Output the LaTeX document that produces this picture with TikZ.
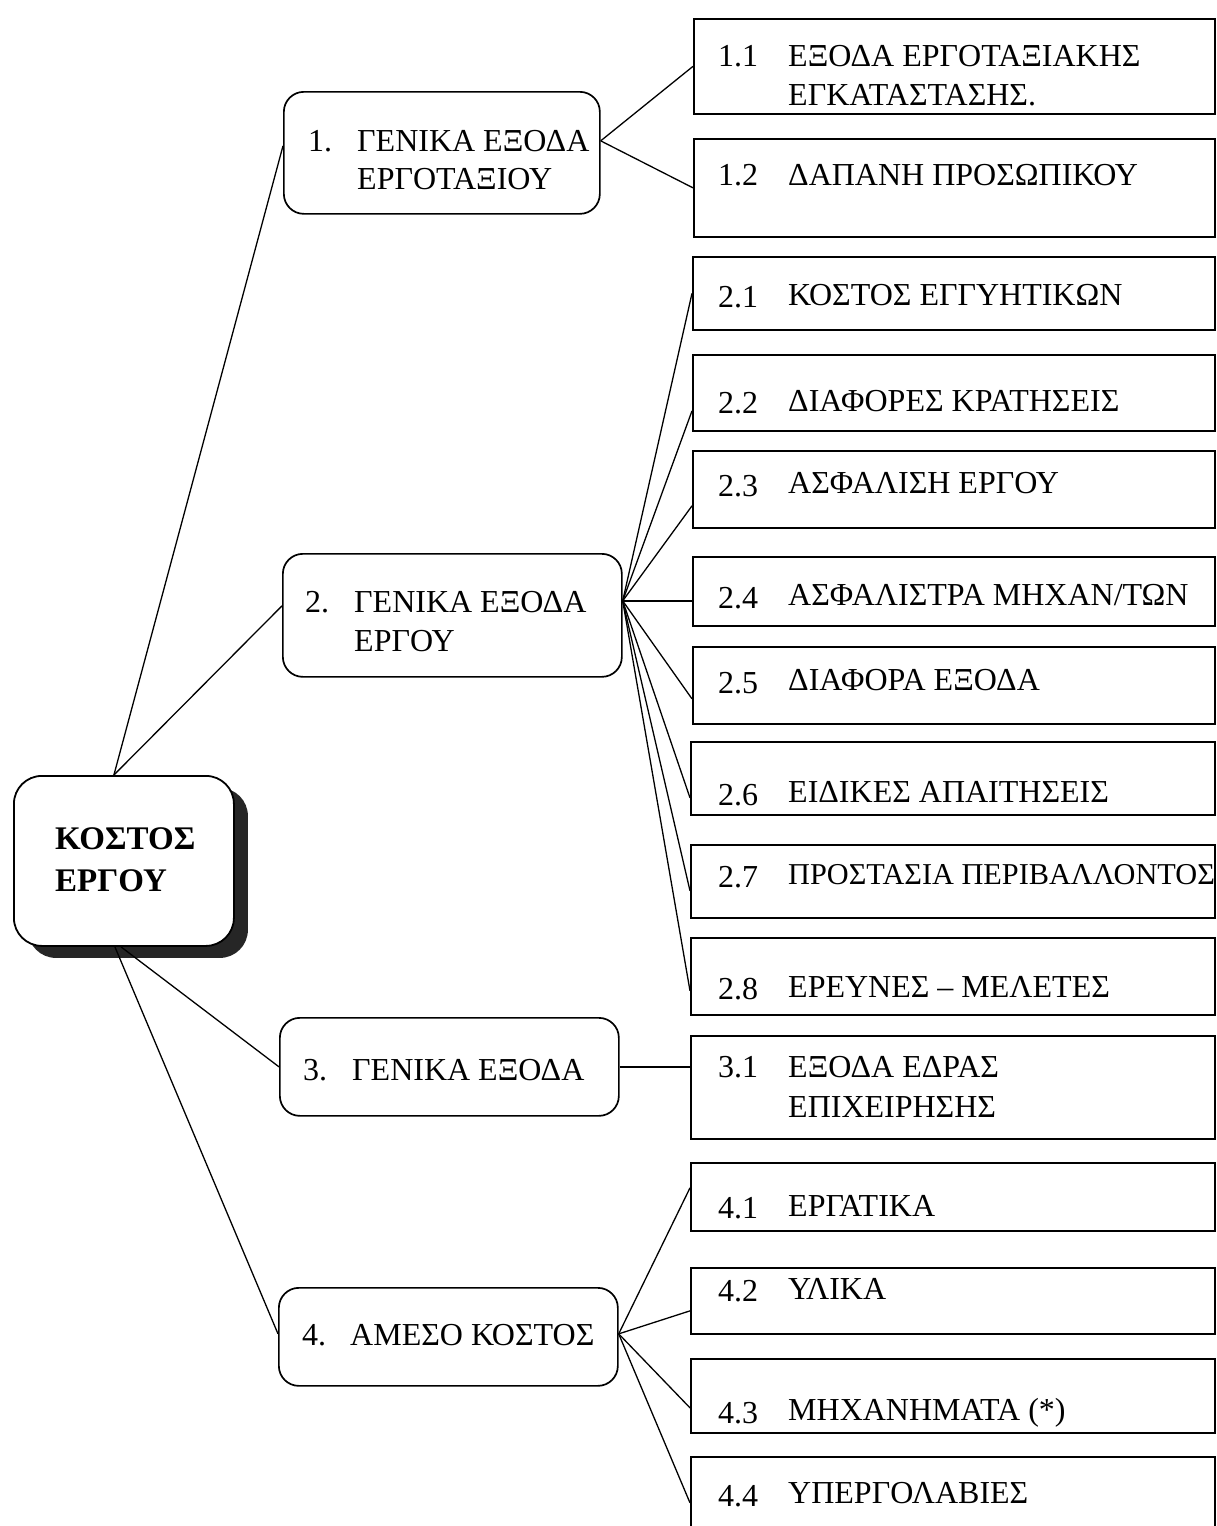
\documentclass[tikz,border=0pt]{standalone}
\usepackage{fontspec}
\setmainfont{Liberation Serif}
\usetikzlibrary{shadows}
\begin{document}
\begin{tikzpicture}[x=1pt,y=-1pt,
  rootbox/.style={draw, line width=1.8pt, rounded corners=28pt, fill=white, anchor=north west, inner sep=0pt,
    drop shadow={shadow xshift=14pt, shadow yshift=-12pt, fill=black!85, opacity=1}},
  lvlone/.style={draw, line width=1.7pt, rounded corners=20pt, anchor=north west, inner sep=0pt},
  lvltwo/.style={draw, line width=1.7pt, anchor=north west, inner sep=0pt},
  conn/.style={line width=1.3pt},
  txt/.style={anchor=base west, inner sep=0pt, font=\fontsize{32}{36}\selectfont},
  rtxt/.style={anchor=base west, inner sep=0pt, font=\fontsize{33}{36}\selectfont\bfseries},
]
\useasboundingbox (0,0) rectangle (1216,1526);

% root
\node[rootbox, minimum width=220pt, minimum height=170pt] (root) at (13,775) {};
\node[rtxt] (roota) at (55,849) {ΚΟΣΤΟΣ};
\node[rtxt] (rootb) at (55,891) {ΕΡΓΟΥ};

% level one
\node[lvlone, minimum width=316pt, minimum height=122pt] (b1) at (283,91) {};
\node[lvlone, minimum width=339pt, minimum height=123pt] (b2) at (282,553) {};
\node[lvlone, minimum width=339pt, minimum height=98pt] (b3) at (279,1017) {};
\node[lvlone, minimum width=339pt, minimum height=98pt] (b4) at (278,1287) {};

\node[txt] (b1n) at (308,151) {1.};
\node[txt] (b1a) at (357,151) {ΓΕΝΙΚΑ ΕΞΟΔΑ};
\node[txt] (b1b) at (357,189) {ΕΡΓΟΤΑΞΙΟΥ};
\node[txt] (b2n) at (305,612) {2.};
\node[txt] (b2a) at (354,612) {ΓΕΝΙΚΑ ΕΞΟΔΑ};
\node[txt] (b2b) at (354,651) {ΕΡΓΟΥ};
\node[txt] (b3n) at (303,1080) {3.};
\node[txt] (b3a) at (352,1080) {ΓΕΝΙΚΑ ΕΞΟΔΑ};
\node[txt] (b4n) at (302,1345) {4.};
\node[txt] (b4a) at (350,1345) {ΑΜΕΣΟ ΚΟΣΤΟΣ};

% level two boxes
\node[lvltwo, minimum width=521pt, minimum height=95pt] (s11) at (693,18) {};
\node[lvltwo, minimum width=521pt, minimum height=98pt] (s12) at (693,138) {};
\node[lvltwo, minimum width=522pt, minimum height=73pt] (s21) at (692,256) {};
\node[lvltwo, minimum width=522pt, minimum height=76pt] (s22) at (692,354) {};
\node[lvltwo, minimum width=522pt, minimum height=77pt] (s23) at (692,450) {};
\node[lvltwo, minimum width=522pt, minimum height=69pt] (s24) at (692,556) {};
\node[lvltwo, minimum width=522pt, minimum height=77pt] (s25) at (692,646) {};
\node[lvltwo, minimum width=524pt, minimum height=73pt] (s26) at (690,741) {};
\node[lvltwo, minimum width=524pt, minimum height=73pt] (s27) at (690,844) {};
\node[lvltwo, minimum width=524pt, minimum height=77pt] (s28) at (690,937) {};
\node[lvltwo, minimum width=524pt, minimum height=103pt] (s31) at (690,1035) {};
\node[lvltwo, minimum width=524pt, minimum height=68pt] (s41) at (690,1162) {};
\node[lvltwo, minimum width=524pt, minimum height=66pt] (s42) at (690,1267) {};
\node[lvltwo, minimum width=524pt, minimum height=74pt] (s43) at (690,1358) {};
\node[lvltwo, minimum width=524pt, minimum height=80pt] (s44) at (690,1456) {};

% level two texts
\node[txt] (s11n) at (718,66) {1.1};
\node[txt] (s11a) at (788,66) {ΕΞΟΔΑ ΕΡΓΟΤΑΞΙΑΚΗΣ};
\node[txt] (s11b) at (788,105) {ΕΓΚΑΤΑΣΤΑΣΗΣ.};
\node[txt] (s12n) at (718,185) {1.2};
\node[txt] (s12a) at (788,185) {ΔΑΠΑΝΗ ΠΡΟΣΩΠΙΚΟΥ};
\node[txt] (s21n) at (718,307) {2.1};
\node[txt] (s21a) at (788,305) {ΚΟΣΤΟΣ ΕΓΓΥΗΤΙΚΩΝ};
\node[txt] (s22n) at (718,413) {2.2};
\node[txt] (s22a) at (788,411) {ΔΙΑΦΟΡΕΣ ΚΡΑΤΗΣΕΙΣ};
\node[txt] (s23n) at (718,496) {2.3};
\node[txt] (s23a) at (788,493) {ΑΣΦΑΛΙΣΗ ΕΡΓΟΥ};
\node[txt] (s24n) at (718,608) {2.4};
\node[txt] (s24a) at (788,605) {ΑΣΦΑΛΙΣΤΡΑ ΜΗΧΑΝ/ΤΩΝ};
\node[txt] (s25n) at (718,693) {2.5};
\node[txt] (s25a) at (788,690) {ΔΙΑΦΟΡΑ ΕΞΟΔΑ};
\node[txt] (s26n) at (718,805) {2.6};
\node[txt] (s26a) at (788,802) {ΕΙΔΙΚΕΣ ΑΠΑΙΤΗΣΕΙΣ};
\node[txt] (s27n) at (718,887) {2.7};
\node[txt, font=\fontsize{30.3}{36}\selectfont] (s27a) at (788,884) {ΠΡΟΣΤΑΣΙΑ ΠΕΡΙΒΑΛΛΟΝΤΟΣ};
\node[txt] (s28n) at (718,999) {2.8};
\node[txt] (s28a) at (788,997) {ΕΡΕΥΝΕΣ – ΜΕΛΕΤΕΣ};
\node[txt] (s31n) at (718,1077) {3.1};
\node[txt] (s31a) at (788,1077) {ΕΞΟΔΑ ΕΔΡΑΣ};
\node[txt] (s31b) at (788,1117) {ΕΠΙΧΕΙΡΗΣΗΣ};
\node[txt] (s41n) at (718,1218) {4.1};
\node[txt] (s41a) at (788,1216) {ΕΡΓΑΤΙΚΑ};
\node[txt] (s42n) at (718,1301) {4.2};
\node[txt] (s42a) at (788,1299) {ΥΛΙΚΑ};
\node[txt] (s43n) at (718,1423) {4.3};
\node[txt] (s43a) at (788,1420) {ΜΗΧΑΝΗΜΑΤΑ (*)};
\node[txt] (s44n) at (718,1506) {4.4};
\node[txt] (s44a) at (788,1503) {ΥΠΕΡΓΟΛΑΒΙΕΣ};

% connectors: root to level one
\draw[conn] ([xshift=-10pt]root.north) -- ([yshift=7pt]b1.west);
\draw[conn] ([xshift=-10pt]root.north) -- ([yshift=9.5pt]b2.west);
\draw[conn] ([xshift=-3pt]root.south) -- (b3.west);
\draw[conn] ([xshift=-9pt]root.south) -- ([yshift=3pt]b4.west);

% level one to level two
\draw[conn] ([yshift=12pt]b1.east) -- (s11.west);
\draw[conn] ([yshift=12pt]b1.east) -- (s12.west);

\draw[conn] ([yshift=14.5pt]b2.east) -- (s21.west);
\draw[conn] ([yshift=14.5pt]b2.east) -- ([yshift=-18pt]s22.west);
\draw[conn] ([yshift=14.5pt]b2.east) -- ([yshift=-16.5pt]s23.west);
\draw[conn] ([yshift=14.5pt]b2.east) -- ([yshift=-9.5pt]s24.west);
\draw[conn] ([yshift=14.5pt]b2.east) -- ([yshift=-13.5pt]s25.west);
\draw[conn] ([yshift=14.5pt]b2.east) -- ([yshift=-19.5pt]s26.west);
\draw[conn] ([yshift=14.5pt]b2.east) -- ([yshift=-9.5pt]s27.west);
\draw[conn] ([yshift=14.5pt]b2.east) -- ([yshift=-14.5pt]s28.west);

\draw[conn] (b3.east) -- ([yshift=20.5pt]s31.west);

\draw[conn] ([yshift=3pt]b4.east) -- ([yshift=9pt]s41.west);
\draw[conn] ([yshift=3pt]b4.east) -- ([yshift=-10pt]s42.west);
\draw[conn] ([yshift=3pt]b4.east) -- ([yshift=-12pt]s43.west);
\draw[conn] ([yshift=3pt]b4.east) -- ([yshift=-6pt]s44.west);
\end{tikzpicture}
\end{document}
